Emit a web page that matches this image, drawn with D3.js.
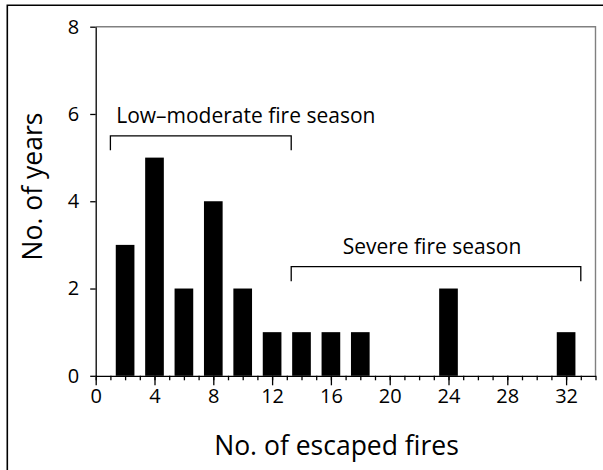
<!DOCTYPE html>
<html><head><meta charset="utf-8">
<script src="https://cdn.jsdelivr.net/npm/d3@7"></script>
<style>body{margin:0;background:#fff}svg{display:block}text{font-family:"Open Sans",sans-serif;fill:#000}</style>
</head><body><svg id="c" width="603" height="470"></svg>
<script>
const fires = [2,4,6,8,10,12,14,16,18,24,32];
const years = [3,5,2,4,2,1,1,1,1,2,1];
const xMajorTicks = [0,4,8,12,16,20,24,28,32];
const yTicks = [0,2,4,6,8];
const brackets = [
  {label:"Low\u2013moderate fire season", from:1, to:13.3, level:5.5},
  {label:"Severe fire season", from:13.3, to:33, level:2.5}
];
const xTitle = "No. of escaped fires";
const yTitle = "No. of years";

const svg = d3.select("#c");
const L=95.7, R=595.5, T=26.7, B=375.8;
const x = d3.scaleLinear().domain([0,34]).range([L,R]);
const y = d3.scaleLinear().domain([0,8]).range([B,T]);
const barW = x(1.27)-x(0);

// outer frame
svg.append("path").attr("d","M7.3,470V5.2H603").attr("fill","none").attr("stroke","#000").attr("stroke-width",1.6);
// plot frame top/right
svg.append("path").attr("d",`M${L},${T}H${R}V${B}`).attr("fill","none").attr("stroke","#808080").attr("stroke-width",1.4);

// bars
svg.selectAll("rect.bar").data(fires).join("rect").attr("class","bar")
  .attr("x",d=>x(d)-barW/2).attr("width",barW)
  .attr("y",(d,i)=>y(years[i])).attr("height",(d,i)=>y(0)-y(years[i]))
  .attr("fill","#000");

// x axis minor
const gxm = svg.append("g").attr("transform",`translate(0,${B})`)
  .call(d3.axisBottom(x).tickValues(d3.range(0,35)).tickSize(4.5).tickFormat(""));
gxm.select(".domain").remove();
const gx = svg.append("g").attr("transform",`translate(0,${B})`)
  .call(d3.axisBottom(x).tickValues(xMajorTicks).tickSize(9.5).tickSizeOuter(0).tickPadding(3.5));
gx.selectAll("text").attr("font-size",20).attr("font-family","Open Sans").attr("fill","#000");
svg.selectAll("g line, g path").attr("stroke","#000").attr("stroke-width",1.3);

const gy = svg.append("g").attr("transform",`translate(${L},0)`)
  .call(d3.axisLeft(y).tickValues(yTicks).tickSize(5.5).tickSizeOuter(0).tickPadding(11));
gy.selectAll("text").attr("font-size",20).attr("font-family","Open Sans").attr("fill","#000");
gy.selectAll("line,path").attr("stroke","#000").attr("stroke-width",1.3);

// brackets
const textShift = [45, -4];
brackets.forEach((b,i)=>{
  const yy = y(b.level);
  svg.append("path").attr("d",`M${x(b.from)},${yy+14.5}V${yy}H${x(b.to)}V${yy+14.5}`)
    .attr("fill","none").attr("stroke","#000").attr("stroke-width",1.3);
  svg.append("text").attr("x",(x(b.from)+x(b.to))/2 + textShift[i]).attr("y",yy-13)
    .attr("text-anchor","middle").attr("font-size",21).text(b.label);
});

svg.append("text").attr("x",336.5).attr("y",455).attr("text-anchor","middle").attr("font-size",26.5).text(xTitle);
svg.append("text").attr("transform","translate(42,186.5) rotate(-90)").attr("text-anchor","middle").attr("font-size",26.5).text(yTitle);
</script></body></html>
